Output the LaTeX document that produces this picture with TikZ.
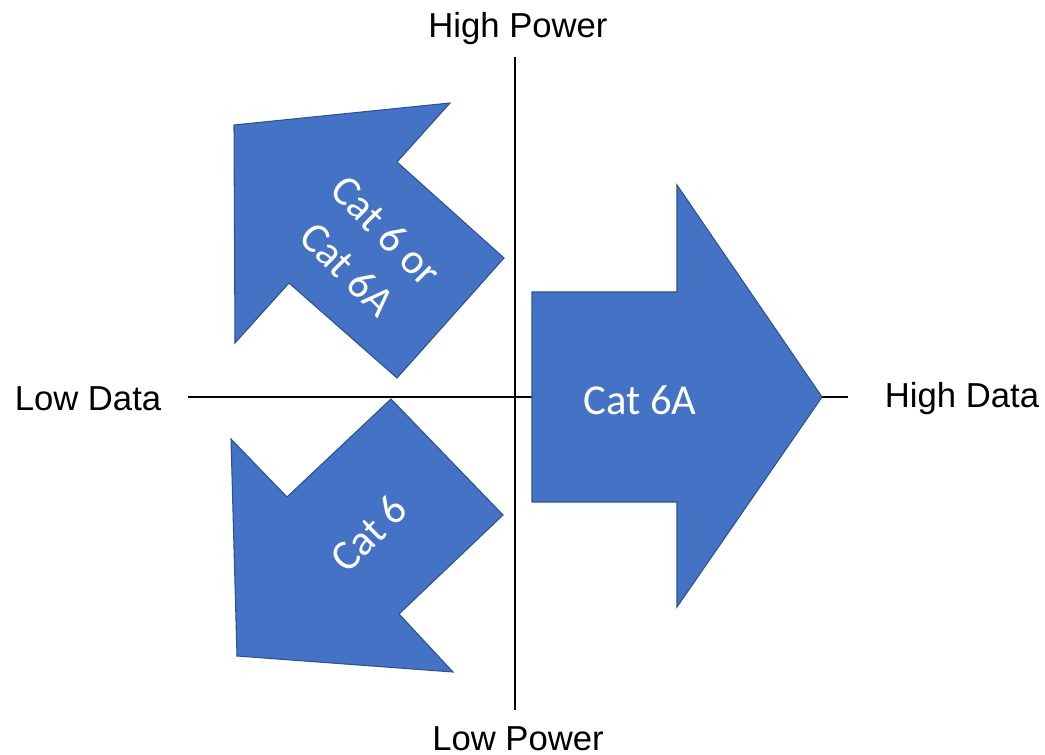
\documentclass[tikz,border=0pt]{standalone}
\usepackage{fontspec}
\setmainfont{Liberation Sans}
\newfontfamily\shapefont[Numbers=Lining]{Carlito}
\usetikzlibrary{calc}
\usetikzlibrary{positioning}
\definecolor{catfill}{HTML}{4472C4}
\definecolor{catedge}{HTML}{2F528F}
\tikzstyle{axislabel} = [font=\fontsize{26}{30}\selectfont, inner sep=0pt]
\tikzstyle{axisline} = [line width=1.4pt]
\tikzstyle{catarrow} = [fill=catfill, draw=catedge, line width=0.8pt, line join=miter]
\tikzstyle{catlabel} = [text=white, font=\shapefont\fontsize{32}{41}\selectfont, align=center, inner sep=0pt]

\begin{document}
\begin{tikzpicture}[x=0.75pt, y=-0.75pt]
  \useasboundingbox (0,0) rectangle (1045,755);

  % axis labels
  \node[axislabel] (hp) at (518,29) {High Power};
  \node[axislabel] (lp) at (518,739) {Low Power};
  \node[axislabel] (ld) at (88,399) {Low Data};
  \node[axislabel] (hd) at (962,399) {High Data};

  \coordinate (top) at (515,57);
  \coordinate (bot) at (515,710);
  \coordinate (left) at (188,397);
  \coordinate (right) at (848,397);

  \draw[axisline] (top) -- (bot);
  \draw[axisline] (left) -- (right);

  % big arrow, high data
  \draw[catarrow] (532,292) -- (677,292) -- (677,185) -- (822,397)
    -- (677,607) -- (677,502) -- (532,502) -- cycle;
  \node[catlabel] (c6a) at (640,400) {Cat 6A};

  % upper left arrow
  \draw[catarrow] (234,125) -- (450,103) -- (397,162) -- (504,258)
    -- (397,378) -- (289,283) -- (235,343) -- cycle;
  \node[catlabel, rotate=-45] (c6or) at (367,250) {Cat 6 or\\Cat 6A};

  % lower left arrow
  \draw[catarrow] (391,399) -- (503,515) -- (399,614) -- (453,672)
    -- (237,656) -- (231,439) -- (287,497) -- cycle;
  \node[catlabel, rotate=45] (c6) at (369,533) {Cat 6};
\end{tikzpicture}
\end{document}
